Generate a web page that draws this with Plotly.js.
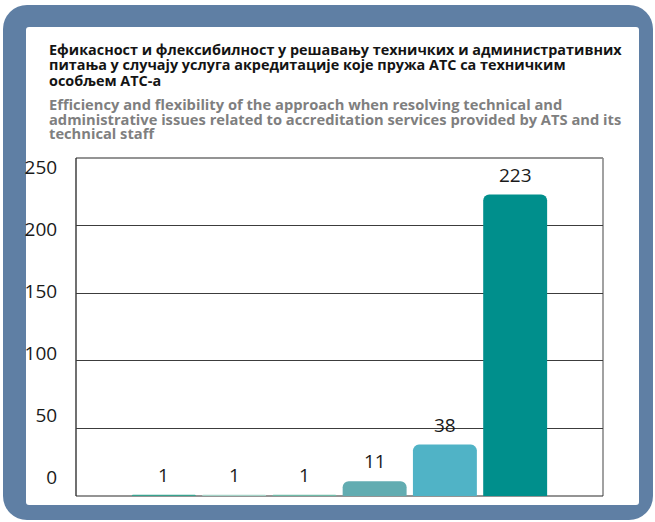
<!DOCTYPE html>
<html>
<head>
<meta charset="utf-8">
<script src="https://cdn.plot.ly/plotly-3.0.1.min.js"></script>
<style>
  html, body { margin:0; padding:0; background:#ffffff; }
  #wrap { position:relative; width:655px; height:522px; overflow:hidden; }
  #outer { position:absolute; left:3px; top:5px; width:650px; height:515px; background:#5f7fa4; border-radius:24px; }
  #inner { position:absolute; left:26px; top:27px; width:613px; height:478px; background:#ffffff; border-radius:3px; }
  #chart { position:absolute; left:0; top:0; width:655px; height:522px; }
</style>
</head>
<body>
<div id="wrap">
  <div id="outer"></div>
  <div id="inner"></div>
  <div id="chart"></div>
</div>
<script>
// ---- data ----
const categories = [0, 1, 2, 3, 4, 5];
const values = [1, 1, 1, 11, 38, 223];
const barColors = ['#37a38f', '#a4d2c6', '#6fbba8', '#62acb1', '#50b3c6', '#008f8c'];
const yTickValues = [0, 50, 100, 150, 200, 250];
const yTickText = ['0', '50', '100', '150', '200', '250'];
const gridValues = [50, 100, 150, 200];
const titleLines = [
  'Ефикасност и флексибилност у решавању техничких и административних',
  'питања у случају услуга акредитације које пружа АТС са техничким',
  'особљем АТС-а'
];
const subtitleLines = [
  'Efficiency and flexibility of the approach when resolving technical and',
  'administrative issues related to accreditation services provided by ATS and its',
  'technical staff'
];

// ---- layout helpers ----
const W = 655, H = 522;
const M = {l:76, r:52, t:158, b:26};
const PW = W - M.l - M.r, PH = H - M.t - M.b;
const px = v => (v - M.l) / PW;
const py = v => (H - M.b - v) / PH;

const FONT = '"Open Sans", "Noto Sans", sans-serif';
const ASC = 1.069;
const tFs = 14.4, sFs = 14.7;
const tLead = 15.3, sLead = 14.5;   // line pitch in px
const tBase = 54, sBase = 109;      // first baseline

const annotations = [
  {
    text: titleLines.join('<br>'), xref:'paper', yref:'paper', x: px(48), y: py(tBase - ASC*tFs),
    xanchor:'left', yanchor:'top', align:'left', showarrow:false, borderpad:0,
    font:{family:FONT, size:tFs, color:'#141414', weight:700}
  },
  {
    text: subtitleLines.join('<br>'), xref:'paper', yref:'paper', x: px(48), y: py(sBase - ASC*sFs),
    xanchor:'left', yanchor:'top', align:'left', showarrow:false, borderpad:0,
    font:{family:FONT, size:sFs, color:'#7f7f7f', weight:700}
  }
];
categories.forEach((c, i) => annotations.push({
  text: String(values[i]), x: c, y: values[i], xref:'x', yref:'y',
  xanchor:'center', yanchor:'middle', yshift: 20, showarrow:false,
  font:{family:FONT, size:19, color:'#1a1a1a'}
}));

const data = [
  {
    type:'bar', x: categories, y: values, width: 0.91,
    marker:{color: barColors, cornerradius: 6, line:{width:0}},
    hoverinfo:'skip', showlegend:false
  },
  {
    type:'scatter', x: [], y: [], xaxis:'x', yaxis:'y2', mode:'markers',
    hoverinfo:'skip', showlegend:false
  }
];

const layout = {
  width: W, height: H,
  margin: M,
  paper_bgcolor:'rgba(0,0,0,0)', plot_bgcolor:'rgba(0,0,0,0)',
  showlegend:false,
  xaxis:{range:[-1.25, 6.25], showgrid:false, zeroline:false, showticklabels:false, ticks:'', showline:false, fixedrange:true},
  yaxis:{range:[0,250], tickvals: gridValues, showgrid:true, gridcolor:'#3c3c3c', gridwidth:1,
         showticklabels:false, ticks:'', zeroline:false, showline:false, fixedrange:true},
  yaxis2:{range:[0,250], domain:[py(477), py(167)], anchor:'x', side:'left',
          tickvals: yTickValues, ticktext: yTickText, showgrid:false, zeroline:false, showline:false,
          ticks:'outside', ticklen:14, tickcolor:'rgba(0,0,0,0)',
          tickfont:{family:FONT, size:19, color:'#1a1a1a'}, fixedrange:true},
  shapes:[
    {type:'line', xref:'paper', yref:'paper', x0:0, x1:0, y0:0, y1:1, line:{color:'#111111', width:1.2}, layer:'below'},
    {type:'line', xref:'paper', yref:'paper', x0:0, x1:1, y0:1, y1:1, line:{color:'#2a2a2a', width:1.2}, layer:'below'},
    {type:'line', xref:'paper', yref:'paper', x0:1, x1:1, y0:0, y1:1, line:{color:'#8a8a8a', width:1.6}, layer:'below'},
    {type:'line', xref:'paper', yref:'paper', x0:0, x1:1, y0:0, y1:0, line:{color:'#2a2a2a', width:1.2}, layer:'below'}
  ],
  annotations: annotations
};

Plotly.newPlot('chart', data, layout, {displayModeBar:false, staticPlot:true}).then(gd => {
  // tighten the leading of the two multi-line title blocks
  const leads = [tLead / tFs, sLead / sFs];
  leads.forEach((k, idx) => {
    const txt = gd.querySelector('.annotation[data-index="' + idx + '"] text.annotation-text');
    if (!txt) return;
    txt.querySelectorAll('tspan.line').forEach((ts, i) => ts.setAttribute('dy', (i * k) + 'em'));
  });
});
</script>
</body>
</html>
